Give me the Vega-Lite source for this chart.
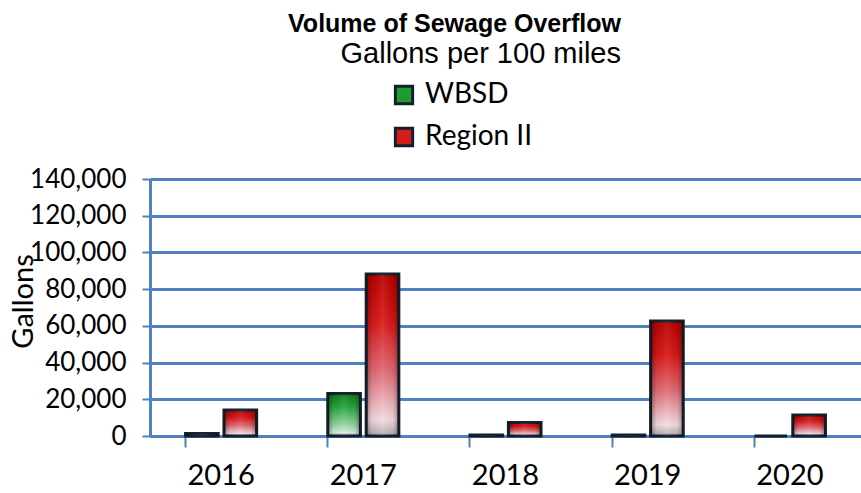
{
  "$schema": "https://vega.github.io/schema/vega-lite/v6.json",
  "width": 711,
  "height": 257,
  "autosize": {"type": "none"},
  "padding": {"left": 150, "top": 179, "right": 0, "bottom": 57},
  "background": "white",
  "title": {
    "text": "Volume of Sewage Overflow",
    "subtitle": "Gallons per 100 miles",
    "frame": "group",
    "anchor": "end",
    "dx": -240,
    "font": "Liberation Sans",
    "fontSize": 25,
    "fontWeight": "bold",
    "color": "#000000",
    "subtitleFont": "Liberation Sans",
    "subtitleFontSize": 29,
    "subtitleColor": "#000000",
    "subtitlePadding": 3,
    "offset": 12
  },
  "data": {
    "values": [
      {"year": "2016", "series": "WBSD", "value": 1300},
      {"year": "2016", "series": "Region II", "value": 14200},
      {"year": "2017", "series": "WBSD", "value": 23200},
      {"year": "2017", "series": "Region II", "value": 88300},
      {"year": "2018", "series": "WBSD", "value": 600},
      {"year": "2018", "series": "Region II", "value": 7300},
      {"year": "2019", "series": "WBSD", "value": 600},
      {"year": "2019", "series": "Region II", "value": 62700},
      {"year": "2020", "series": "WBSD", "value": 0},
      {"year": "2020", "series": "Region II", "value": 11500}
    ]
  },
  "encoding": {
    "x": {
      "field": "year",
      "type": "nominal",
      "scale": {"paddingInner": 0.5, "paddingOuter": 0.25},
      "axis": {
        "title": null,
        "labelAngle": 0,
        "labelFont": "Lato",
        "labelFontSize": 29,
        "labelColor": "#000000",
        "labelPadding": 14,
        "bandPosition": 0,
        "tickColor": "#4f81bd",
        "tickWidth": 2,
        "tickSize": 11,
        "domainColor": "#4f81bd",
        "domainWidth": 3
      }
    },
    "xOffset": {"field": "series", "scale": {"domain": ["WBSD", "Region II"], "paddingInner": 0.15}},
    "y": {
      "field": "value",
      "type": "quantitative",
      "scale": {"domain": [0, 140000]},
      "axis": {
        "title": "Gallons",
        "titleFont": "Lato",
        "titleFontSize": 29,
        "titleFontWeight": "normal",
        "titleColor": "#000000",
        "titleX": -127,
        "titleY": 122,
        "titleAngle": -90,
        "titleAlign": "center",
        "titleBaseline": "middle",
        "values": [0, 20000, 40000, 60000, 80000, 100000, 120000, 140000],
        "format": ",d",
        "labelFont": "Lato",
        "labelFontSize": 26,
        "labelColor": "#000000",
        "labelPadding": 16,
        "tickColor": "#4f81bd",
        "tickWidth": 2,
        "tickSize": 8,
        "domainColor": "#4f81bd",
        "domainWidth": 3,
        "gridColor": "#4f81bd",
        "gridWidth": 3,
        "gridOpacity": 1
      }
    }
  },
  "layer": [
    {
      "transform": [{"filter": "datum.series === 'WBSD'"}],
      "mark": {"type": "bar", "stroke": "#15202e", "strokeWidth": 3},
      "encoding": {
        "color": {"value": {"gradient": "linear", "x1": 0, "y1": 0, "x2": 0, "y2": 1, "stops": [{"offset": 0, "color": "#0e7a18"}, {"offset": 0.3, "color": "#22a338"}, {"offset": 0.8, "color": "#a9dcb2"}, {"offset": 0.92, "color": "#d8eedb"}, {"offset": 1, "color": "#a0aaa2"}]}}
      }
    },
    {
      "transform": [{"filter": "datum.series === 'Region II'"}],
      "mark": {"type": "bar", "stroke": "#15202e", "strokeWidth": 3},
      "encoding": {
        "color": {"value": {"gradient": "linear", "x1": 0, "y1": 0, "x2": 0, "y2": 1, "stops": [{"offset": 0, "color": "#b80000"}, {"offset": 0.3, "color": "#d81818"}, {"offset": 0.6, "color": "#e06a72"}, {"offset": 0.9, "color": "#f3dbe2"}, {"offset": 1, "color": "#b4a9ac"}]}}
      }
    },
    {
      "mark": {"type": "bar", "strokeWidth": 0},
      "encoding": {
        "color": {"value": {"gradient": "linear", "x1": 0, "y1": 0, "x2": 1, "y2": 0, "stops": [{"offset": 0, "color": "rgba(0,0,0,0.35)"}, {"offset": 0.18, "color": "rgba(0,0,0,0.05)"}, {"offset": 0.5, "color": "rgba(255,255,255,0.08)"}, {"offset": 0.82, "color": "rgba(0,0,0,0.05)"}, {"offset": 1, "color": "rgba(0,0,0,0.35)"}]}}
      }
    },
    {
      "mark": {"type": "bar", "opacity": 0, "strokeOpacity": 0},
      "encoding": {
        "color": {
          "field": "series",
          "type": "nominal",
          "sort": ["WBSD", "Region II"],
          "scale": {"domain": ["WBSD", "Region II"], "range": ["#1f9a30", "#d41c1c"]},
          "legend": {
            "title": null,
            "orient": "none",
            "legendX": 240,
            "legendY": -98,
            "direction": "vertical",
            "symbolType": "square",
            "symbolSize": 300,
            "symbolStrokeColor": "#15202e",
            "symbolStrokeWidth": 3,
            "symbolOpacity": 1,
            "labelFont": "Lato",
            "labelFontSize": 28,
            "labelColor": "#000000",
            "labelOffset": 7,
            "rowPadding": 12,
            "labelLimit": 300
          }
        }
      }
    }
  ],
  "config": {"view": {"stroke": null}}
}
